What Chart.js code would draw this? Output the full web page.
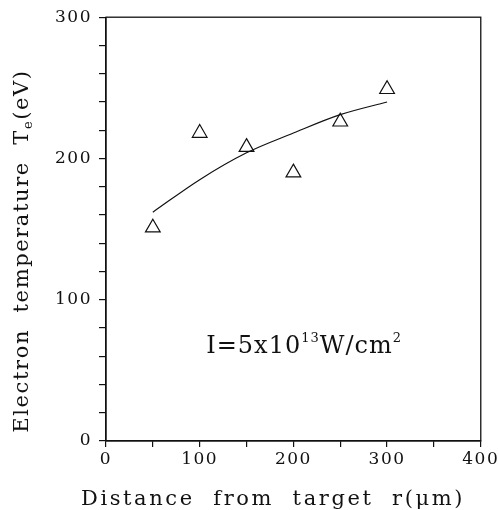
<!DOCTYPE html>
<html>
<head>
<meta charset="utf-8">
<script src="https://cdn.jsdelivr.net/npm/chart.js@4.4.0/dist/chart.umd.min.js"></script>
<style>
  html, body { margin: 0; padding: 0; background: #fff; }
</style>
</head>
<body>
<canvas id="tempChart" width="499" height="510"></canvas>
<script>
// measured points (triangles) and fitted curve
const distances = [50, 100, 150, 200, 250, 300];
const measuredTe = [151, 218, 208, 190, 226, 249];
const fitTe = [162, 185, 204, 218, 231, 240];
const xTickLabels = [0, 100, 200, 300, 400];
const yTickLabels = [0, 100, 200, 300];

const ink = '#111';
const serif = '"DejaVu Serif", "Liberation Serif", serif';

const toPoints = (xs, ys) => xs.map((x, i) => ({ x: x, y: ys[i] }));

// draws frame, axis titles and the intensity note
const decorPlugin = {
    id: 'decor',
    beforeDraw(chart) {
        chart.ctx.letterSpacing = '1.5px';
    },
    afterDraw(chart) {
        const ctx = chart.ctx;
        const area = chart.chartArea;
        const xs = chart.scales.x;
        const ys = chart.scales.y;
        ctx.letterSpacing = '0px';

        ctx.save();
        ctx.strokeStyle = ink;
        ctx.lineWidth = 1.3;
        ctx.strokeRect(area.left, area.top, area.right - area.left, area.bottom - area.top);
        ctx.restore();

        // x title
        ctx.save();
        ctx.fillStyle = ink;
        ctx.font = '21px ' + serif;
        ctx.letterSpacing = '2.6px';
        ctx.textAlign = 'center';
        ctx.textBaseline = 'alphabetic';
        ctx.fillText('Distance  from  target  r(\u03bcm)', 273, 505);
        ctx.restore();

        // y title, rotated, with subscript e
        ctx.save();
        ctx.fillStyle = ink;
        ctx.translate(20, 251);
        ctx.rotate(-Math.PI / 2);
        ctx.letterSpacing = '1.6px';
        ctx.textBaseline = 'alphabetic';
        ctx.textAlign = 'left';
        const big = '21px ' + serif;
        const small = '13px ' + serif;
        const parts = [
            { t: 'Electron  temperature  T', f: big, dy: 0 },
            { t: 'e', f: small, dy: 4 },
            { t: '(eV)', f: big, dy: 0 }
        ];
        let total = 0;
        parts.forEach(p => { ctx.font = p.f; p.w = ctx.measureText(p.t).width; total += p.w; });
        let cx = -total / 2;
        parts.forEach(p => {
            ctx.font = p.f;
            ctx.fillText(p.t, cx, 8 + p.dy);
            cx += p.w;
        });
        ctx.restore();

        // intensity note
        ctx.save();
        ctx.fillStyle = ink;
        ctx.letterSpacing = '1px';
        ctx.textBaseline = 'alphabetic';
        ctx.textAlign = 'left';
        let nx = xs.getPixelForValue(107);
        const ny = ys.getPixelForValue(62);
        const note = [
            { t: 'I=5x10', f: '24px ' + serif, dy: 0 },
            { t: '13', f: '13px ' + serif, dy: -11 },
            { t: 'W/cm', f: '24px ' + serif, dy: 0 },
            { t: '2', f: '13px ' + serif, dy: -11 }
        ];
        note.forEach(p => {
            ctx.font = p.f;
            ctx.fillText(p.t, nx, ny + p.dy);
            nx += ctx.measureText(p.t).width;
        });
        ctx.restore();
    }
};

const ctx = document.getElementById('tempChart');

new Chart(ctx, {
    type: 'scatter',
    data: {
        datasets: [
            {
                label: 'fit',
                type: 'line',
                data: toPoints(distances, fitTe),
                borderColor: ink,
                borderWidth: 1.2,
                pointRadius: 0,
                fill: false,
                cubicInterpolationMode: 'monotone'
            },
            {
                label: 'measured',
                data: toPoints(distances, measuredTe),
                pointStyle: 'triangle',
                pointRadius: 8.5,
                pointBackgroundColor: 'rgba(255,255,255,0)',
                pointBorderColor: ink,
                pointBorderWidth: 1.2
            }
        ]
    },
    options: {
        responsive: false,
        animation: false,
        layout: { padding: { top: 15, right: 15, left: 0, bottom: 0 } },
        plugins: {
            legend: { display: false },
            tooltip: { enabled: false }
        },
        scales: {
            x: {
                type: 'linear',
                min: 0,
                max: 400,
                afterFit: s => { s.height = 69; },
                grid: { drawOnChartArea: false, drawTicks: true, tickLength: 6, color: ink, lineWidth: 1.2 },
                border: { display: true, color: ink, width: 1.3 },
                ticks: {
                    stepSize: 50,
                    padding: 2,
                    maxRotation: 0,
                    autoSkip: false,
                    color: ink,
                    font: { family: serif, size: 17 },
                    callback: v => xTickLabels.includes(v) ? String(v) : ''
                }
            },
            y: {
                min: 0,
                max: 300,
                afterFit: s => { s.width = 106; },
                grid: { drawOnChartArea: false, drawTicks: true, tickLength: 7, color: ink, lineWidth: 1.2 },
                border: { display: true, color: ink, width: 1.3 },
                ticks: {
                    stepSize: 20,
                    padding: 7,
                    autoSkip: false,
                    color: ink,
                    font: { family: serif, size: 17 },
                    callback: v => yTickLabels.includes(v) ? String(v) : ''
                }
            }
        }
    },
    plugins: [decorPlugin]
});
</script>
</body>
</html>
